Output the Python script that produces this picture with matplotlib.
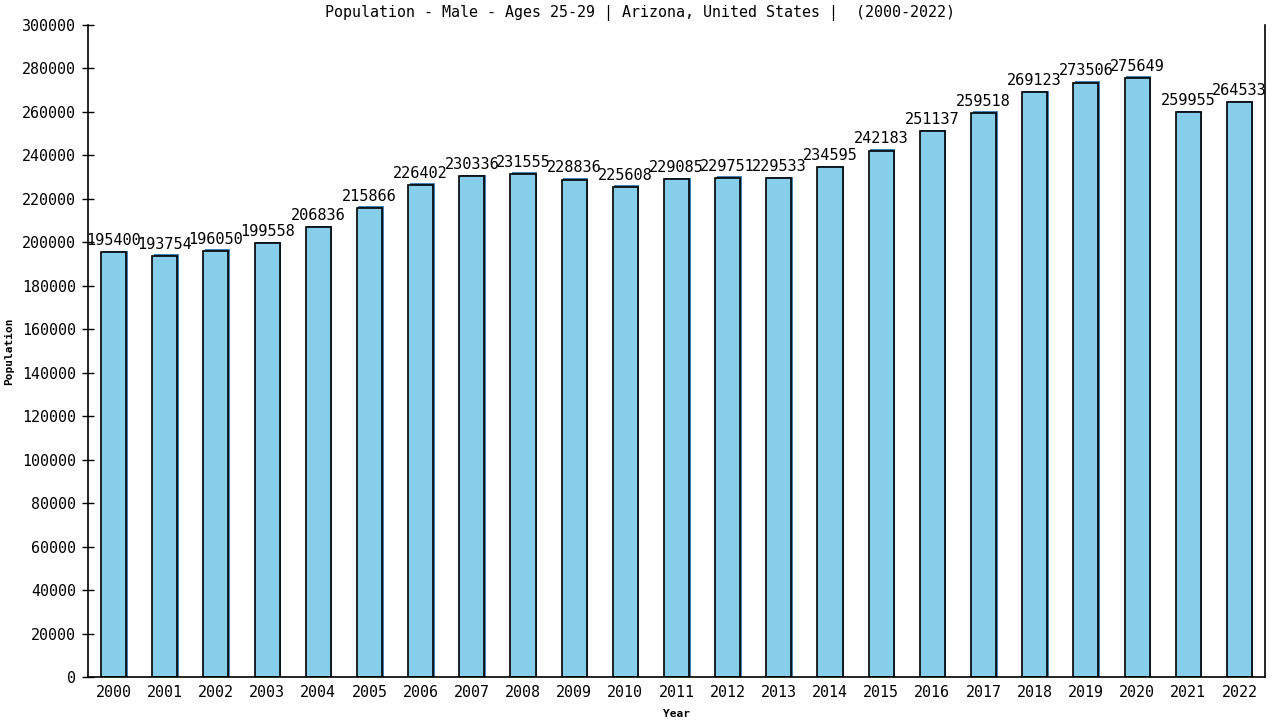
import matplotlib
matplotlib.use('Agg')
import matplotlib.pyplot as plt
import numpy as np

YEARS = [2000, 2001, 2002, 2003, 2004, 2005, 2006, 2007, 2008, 2009, 2010, 2011,
         2012, 2013, 2014, 2015, 2016, 2017, 2018, 2019, 2020, 2021, 2022]
POPULATION = [195400, 193754, 196050, 199558, 206836, 215866, 226402, 230336,
              231555, 228836, 225608, 229085, 229751, 229533, 234595, 242183,
              251137, 259518, 269123, 273506, 275649, 259955, 264533]
Y_TICKS = list(range(0, 300001, 20000))
TITLE = 'Population - Male - Ages 25-29 | Arizona, United States |  (2000-2022)'

BAR_COLOR = '#87ceeb'
SHADOW_COLOR = '#4682b4'

plt.rcParams['font.family'] = ['DejaVu Sans Mono']

fig = plt.figure(figsize=(12.8, 7.2), dpi=100)
ax = fig.add_axes([88 / 1280, 43 / 720, (1265 - 88) / 1280, (677 - 25) / 720])

x = np.arange(len(YEARS))
# shadow behind each bar, a pixel or so to the right and up
ax.bar(x + 0.03, np.array(POPULATION) + 700, width=0.49, color=SHADOW_COLOR,
       linewidth=0, zorder=1)
ax.bar(x, POPULATION, width=0.49, color=BAR_COLOR, edgecolor='black',
       linewidth=1.2, zorder=2)

for i, v in enumerate(POPULATION):
    ax.annotate(str(v), (x[i], v), xytext=(0, 3), textcoords='offset points',
                ha='center', va='bottom', fontsize=11, zorder=3)

ax.set_xlim(-0.5, len(YEARS) - 0.5)
ax.set_ylim(0, 300000)
ax.set_xticks(x)
ax.set_xticklabels([str(y) for y in YEARS], fontsize=10.8)
ax.set_yticks(Y_TICKS)
ax.set_yticklabels([str(t) for t in Y_TICKS], fontsize=10.8)
ax.tick_params(axis='y', direction='inout', length=9, width=1, pad=4)
ax.tick_params(axis='x', length=0, pad=6)

ax.spines['top'].set_visible(False)
for s in ['left', 'right', 'bottom']:
    ax.spines[s].set_linewidth(1.2)

ax.set_xlabel('Year', fontsize=8, fontweight='bold', labelpad=6)
ax.set_ylabel('Population', fontsize=8, fontweight='bold', labelpad=6)

fig.text(0.5, 1 - 13 / 720, TITLE, ha='center', va='center', fontsize=10.8)

fig.savefig('out.png', dpi=100)
